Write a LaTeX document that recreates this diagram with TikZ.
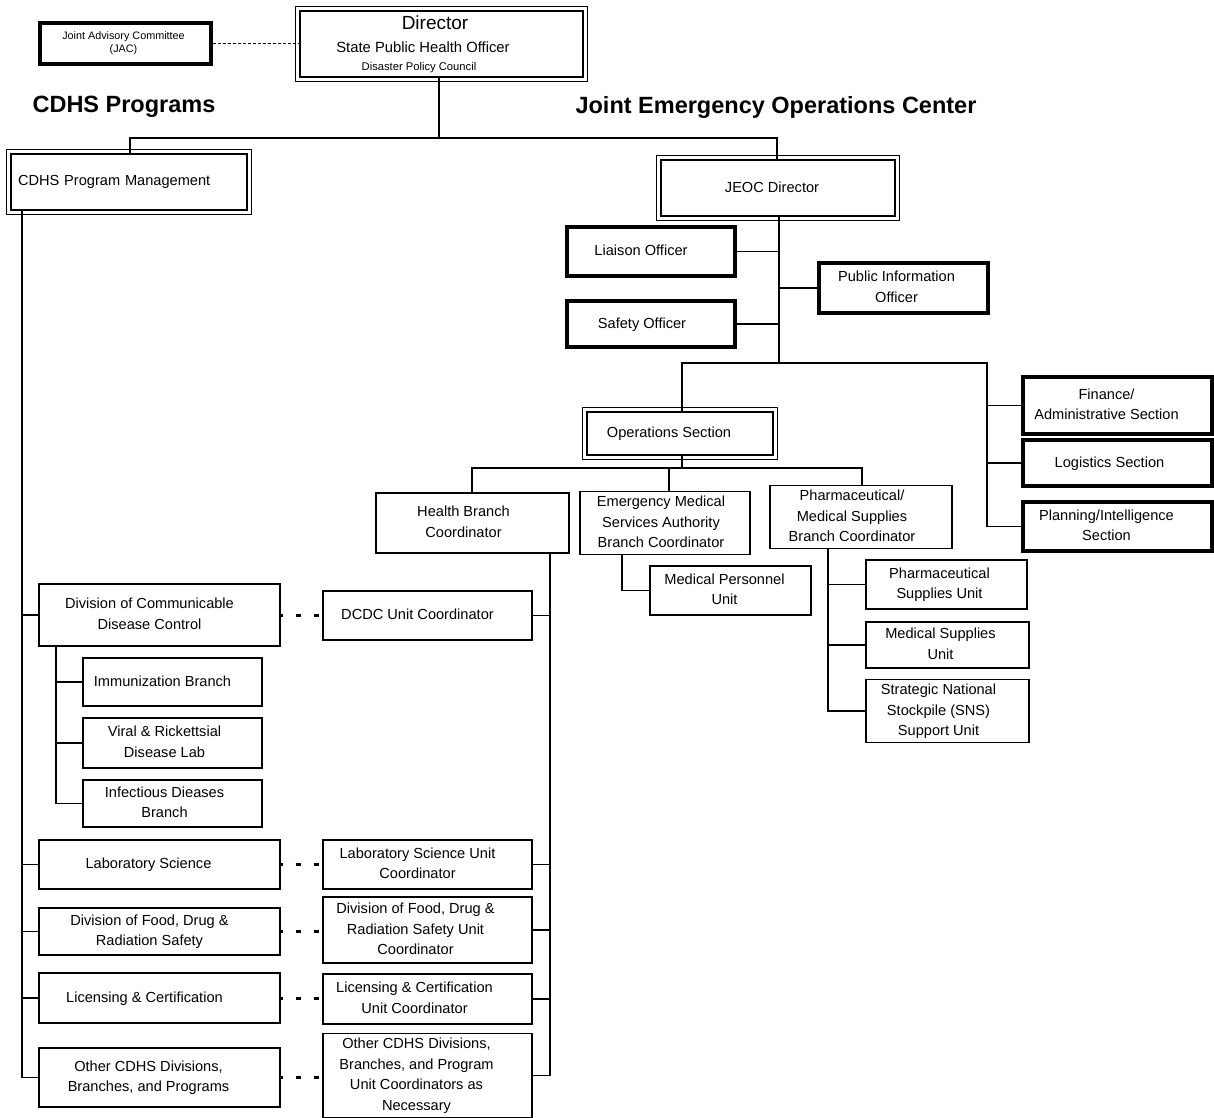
\documentclass[tikz,border=0pt]{standalone}
\usepackage{fontspec}
\setmainfont{Liberation Sans}
\newcommand\fsN{\fontsize{14.6}{20.5}\selectfont}
% centred lines, shifted left by half of the optional padding
\newcommand\bt[2][18]{\begin{tabular}{@{}c@{}}#2\end{tabular}\hspace*{#1pt}}
\begin{document}
\begin{tikzpicture}[x=1pt,y=-1pt,
 box/.style={draw, line width=1.4pt, inner sep=1pt, font=\fsN},
 heavy/.style={box, line width=3.2pt},
 dbl/.style={box, line width=2.4pt},
 conn/.style={line width=1.6pt},
 dots/.style={line width=3pt, dash pattern=on 5pt off 13pt, dash phase=3pt},
 jacline/.style={line width=1.5pt, dash pattern=on 3pt off 2pt},
 ttl/.style={font=\fontsize{23.5}{26}\selectfont\bfseries, inner sep=0pt},
 plain/.style={inner sep=0pt}]
\fill[white] (0,0) rectangle (1214,1117);
\useasboundingbox (0,0) rectangle (1214,1117);

% top
\node[heavy, minimum width=171pt, minimum height=41pt, font=\fontsize{10.8}{12.5}\selectfont] (jac) at (125.5,43.5) {\begin{tabular}{@{}c@{}}Joint Advisory Committee\\(JAC)\end{tabular}\hspace*{4pt}};
\node[dbl, minimum width=283pt, minimum height=66pt] (dir) at (441.5,44) {};
\node[plain, font=\fontsize{19}{20}\selectfont] (dirt1) at (435,23) {Director};
\node[plain, font=\fontsize{14.8}{16}\selectfont] (dirt2) at (423,47) {State Public Health Officer};
\node[plain, font=\fontsize{11.2}{12}\selectfont] (dirt3) at (419,68) {Disaster Policy Council};
\node[ttl] (t1) at (124,107) {CDHS Programs};
\node[ttl] (t2) at (776,107) {Joint Emergency Operations Center};

\node[dbl, minimum width=236pt, minimum height=56pt, text width=222pt, inner xsep=7pt, align=left] (cpm) at (129,182) {CDHS Program Management};
\node[dbl, minimum width=234pt, minimum height=56pt] (jeoc) at (778,188) {\bt[12]{JEOC Director}};

% JEOC staff
\node[heavy, minimum width=168pt, minimum height=49pt] (liaison) at (651,251.5) {\bt[20]{Liaison Officer}};
\node[heavy, minimum width=168pt, minimum height=46pt] (safety) at (651,324) {\bt{Safety Officer}};
\node[heavy, minimum width=169pt, minimum height=50pt] (pio) at (903.5,288) {\bt[14]{Public Information\\Officer}};
\node[heavy, minimum width=189pt, minimum height=57pt] (finance) at (1117.5,405.5) {\bt[22]{Finance/\\Administrative Section}};
\node[heavy, minimum width=189pt, minimum height=46pt] (logistics) at (1117.5,463) {\bt[16]{Logistics Section}};
\node[heavy, minimum width=189pt, minimum height=49pt] (planning) at (1117.5,526.5) {\bt[22]{Planning/Intelligence\\Section}};
\node[dbl, minimum width=186pt, minimum height=43pt] (ops) at (680,433.5) {\bt[22]{Operations Section}};

% branches
\node[box, minimum width=193pt, minimum height=60pt] (health) at (472.5,523) {\bt{Health Branch\\Coordinator}};
\node[box, minimum width=170pt, minimum height=60pt] (ems) at (665,523) {\bt[8]{Emergency Medical\\Services Authority\\Branch Coordinator}};
\node[box, minimum width=182pt, minimum height=60pt] (pharma) at (861,517) {\bt{Pharmaceutical/\\Medical Supplies\\Branch Coordinator}};
\node[box, minimum width=161pt, minimum height=49pt] (medpers) at (730.5,590.5) {\bt[12]{Medical Personnel\\Unit}};
\node[box, minimum width=161pt, minimum height=49pt] (phsup) at (946.5,584.5) {\bt[14]{Pharmaceutical\\Supplies Unit}};
\node[box, minimum width=163pt, minimum height=46pt] (medsup) at (947.5,645) {\bt[14]{Medical Supplies\\Unit}};
\node[box, minimum width=163pt, minimum height=60pt] (sns) at (947.5,711) {\bt{Strategic National\\Stockpile (SNS)\\Support Unit}};

% CDHS program column
\node[box, minimum width=241pt, minimum height=62pt] (dcdc) at (159.5,615) {\bt[20]{Division of Communicable\\Disease Control}};
\node[box, minimum width=179pt, minimum height=48pt] (immun) at (172.5,682) {\bt[20]{Immunization Branch}};
\node[box, minimum width=179pt, minimum height=50pt] (viral) at (172.5,743) {\bt[16]{Viral \& Rickettsial\\Disease Lab}};
\node[box, minimum width=179pt, minimum height=47pt] (infect) at (172.5,803.5) {\bt[16]{Infectious Dieases\\Branch}};
\node[box, minimum width=241pt, minimum height=49pt] (lab) at (159.5,864.5) {\bt[22]{Laboratory Science}};
\node[box, minimum width=241pt, minimum height=47pt] (food) at (159.5,931.5) {\bt[20]{Division of Food, Drug \&\\Radiation Safety}};
\node[box, minimum width=241pt, minimum height=50pt] (lic) at (159.5,998) {\bt[30]{Licensing \& Certification}};
\node[box, minimum width=241pt, minimum height=59pt] (other) at (159.5,1077.5) {\bt[22]{Other CDHS Divisions,\\Branches, and Programs}};

% unit coordinators
\node[box, minimum width=209pt, minimum height=49pt] (dcdcu) at (427.5,615.5) {\bt[20]{DCDC Unit Coordinator}};
\node[box, minimum width=209pt, minimum height=49pt] (labu) at (427.5,864.5) {\bt[20]{Laboratory Science Unit\\Coordinator}};
\node[box, minimum width=209pt, minimum height=66pt] (foodu) at (427.5,930) {\bt[24]{Division of Food, Drug \&\\Radiation Safety Unit\\Coordinator}};
\node[box, minimum width=209pt, minimum height=50pt] (licu) at (427.5,999) {\bt[26]{Licensing \& Certification\\Unit Coordinator}};
\node[box, minimum width=209pt, minimum height=81pt] (otheru) at (427.5,1075.5) {\bt[22]{Other CDHS Divisions,\\Branches, and Program\\Unit Coordinators as\\Necessary}};

% thin outer frames of double boxes
\foreach \n in {dir,cpm,jeoc,ops}
  \draw[line width=0.9pt] ([shift={(-3,-3)}]\n.north west) rectangle ([shift={(3,3)}]\n.south east);

% coordinates
\coordinate (j0) at (439,138);
\coordinate (j1) at (130,138);
\coordinate (j2) at (777,138);
\coordinate (jt) at (779,363);
\coordinate (b1) at (682,363);
\coordinate (b2) at (987,363);
\coordinate (sb) at (682,468);
\coordinate (s1) at (472,468);
\coordinate (s2) at (669,468);
\coordinate (s3) at (862,468);
\coordinate (ex) at (622,0);
\coordinate (px) at (828,0);
\coordinate (lt) at (22,0);
\coordinate (st) at (56,0);
\coordinate (rt) at (550,0);

% connectors
\draw[jacline] (jac.east) -- (jac.east -| dir.west);
\draw[conn] (dir.south -| j0) -- (j0);
\draw[conn] (cpm.north -| j1) -- (j1) -- (j2) -- (jeoc.north -| j2);
\draw[conn] (jeoc.south -| jt) -- (jt);
\draw[conn] (liaison.east) -- (liaison.east -| jt);
\draw[conn] (safety.east) -- (safety.east -| jt);
\draw[conn] (pio.west) -- (pio.west -| jt);
\draw[conn] (ops.north -| b1) -- (b1) -- (b2) -- (planning.west -| b2) -- (planning.west);
\draw[conn] (finance.west -| b2) -- (finance.west);
\draw[conn] (logistics.west -| b2) -- (logistics.west);
\draw[conn] (ops.south -| sb) -- (sb);
\draw[conn] (health.north -| s1) -- (s1) -- (s3) -- (pharma.north -| s3);
\draw[conn] (s2) -- (ems.north -| s2);
\draw[conn] (ems.south -| ex) |- (medpers.west);
\draw[conn] (pharma.south -| px) |- (sns.west);
\draw[conn] (phsup.west -| px) -- (phsup.west);
\draw[conn] (medsup.west -| px) -- (medsup.west);

% left trunk
\draw[conn] (cpm.south -| lt) -- (other.west -| lt) -- (other.west);
\foreach \n in {dcdc,lab,food,lic}
  \draw[conn] (\n.west -| lt) -- (\n.west);
\draw[conn] (dcdc.south -| st) -- (infect.west -| st) -- (infect.west);
\draw[conn] (immun.west -| st) -- (immun.west);
\draw[conn] (viral.west -| st) -- (viral.west);

% right trunk
\draw[conn] (health.south -| rt) -- (otheru.east -| rt) -- (otheru.east);
\foreach \n in {dcdcu,labu,foodu,licu}
  \draw[conn] (\n.east -| rt) -- (\n.east);

% dotted links
\draw[dots] (dcdc.east) -- (dcdc.east -| dcdcu.west);
\draw[dots] (lab.east) -- (lab.east -| labu.west);
\draw[dots] (food.east) -- (food.east -| foodu.west);
\draw[dots] (lic.east) -- (lic.east -| licu.west);
\draw[dots] (other.east) -- (other.east -| otheru.west);
\end{tikzpicture}
\end{document}
